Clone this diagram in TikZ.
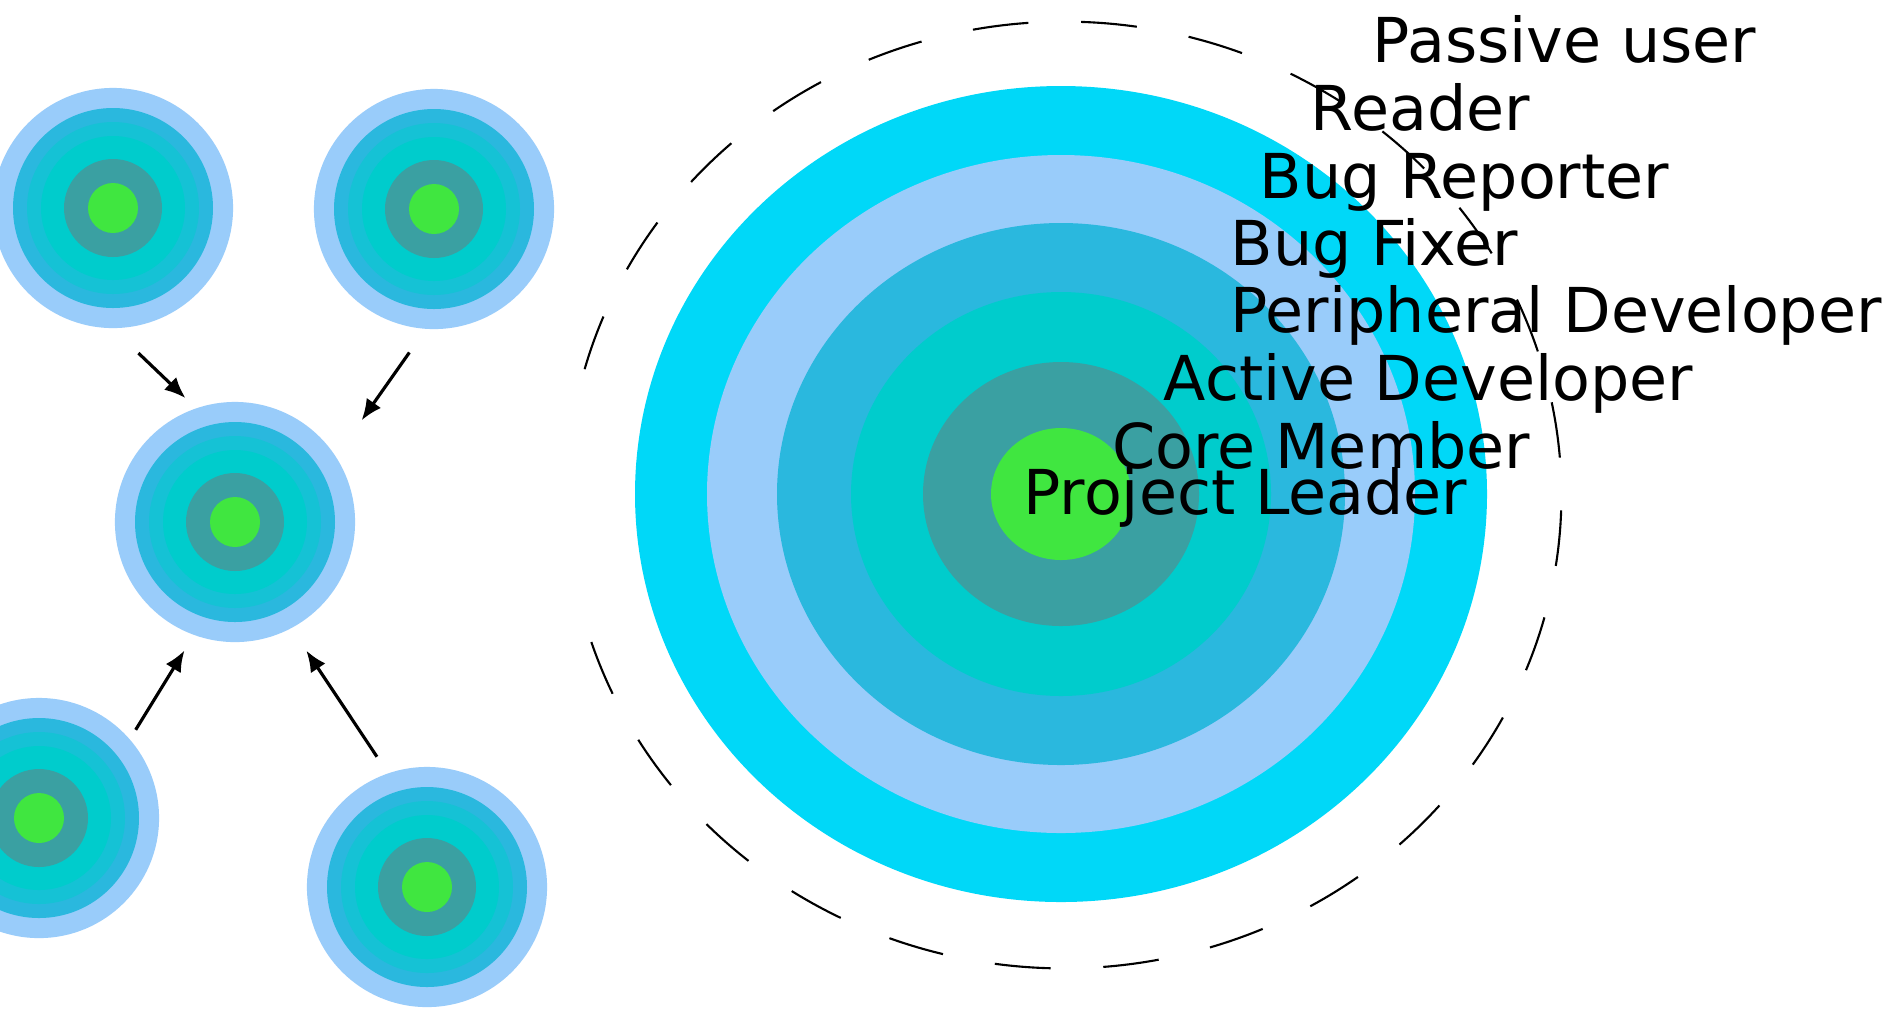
\documentclass[tikz,border=0pt]{standalone}
\usepackage{fontspec}
\setmainfont{DejaVu Sans}
\usetikzlibrary{arrows.meta}

\definecolor{onioncyan}{RGB}{0,216,248}
\definecolor{onionlight}{RGB}{153,204,250}
\definecolor{onionblue}{RGB}{42,184,222}
\definecolor{onionturq}{RGB}{0,204,204}
\definecolor{onionteal}{RGB}{58,160,162}
\definecolor{oniongreen}{RGB}{64,230,64}

\begin{document}
\begin{tikzpicture}
        [
          x=0.01cm, y=-0.01cm,
          onion/.style={circle, fill=onionlight, minimum size=2.4cm, inner sep=0pt},
          role/.style={anchor=base west, inner sep=0pt, font=\fontsize{17.6}{20}\selectfont},
          arrow/.style={line width=0.9pt, -{Latex[length=6pt,width=5pt]}},
          rim/.style={line width=0.6pt, dash pattern=on 15.9pt off 15pt}
        ]
        \fill [white] (0,0) rectangle (1901,1008);
        \useasboundingbox (0,0) rectangle (1901,1008);
        % small onions
        \foreach \n/\x/\y in {tl/113/208, tr/434/209, mid/235/522, bl/39/818, br/427/887} {
            \node [onion] (\n) at (\x,\y) {};
            \fill [onionblue] (\n) circle (100);
            \fill [onionblue!50!onionturq] (\n) circle (86);
            \fill [onionturq] (\n) circle (72);
            \fill [onionteal] (\n) circle (49);
            \fill [oniongreen] (\n) circle (25);
        }
        % arrows
        \draw [arrow, shorten <=10pt, shorten >=4pt] (tl.-90) -- (mid.109);
        \draw [arrow, shorten <=8pt, shorten >=12.5pt] (tr.266) -- (mid.33);
        \draw [arrow, shorten <=3pt, shorten >=5pt] (bl.41) -- (mid.250);
        \draw [arrow, shorten <=5.5pt, shorten >=7.5pt] (br.109) -- (mid.298);
        % big onion
        \coordinate (centre) at (1061,494);
        \foreach \rx/\ry/\col in {426/408/onioncyan, 354/339/onionlight, 284/271/onionblue,
                                  210/202/onionturq, 138/132/onionteal, 70/66/oniongreen} {
            \fill [\col] (centre) ellipse [x radius=\rx, y radius=\ry];
        }
        % dashed boundary, open on the left
        \coordinate (outer) at (1064,495);
        \draw [rim] ([shift={(198.1:4.97cm and 4.73cm)}]outer)
          arc [start angle=198.1, end angle=525.3, x radius=4.97cm, y radius=4.73cm];
        % labels
        \node [role] (passive) at (1372,62) {Passive user};
        \node [role] (reader) at (1310,130) {Reader};
        \node [role] (reporter) at (1259,198) {Bug Reporter};
        \node [role] (fixer) at (1230,265) {Bug Fixer};
        \node [role] (peripheral) at (1230,332) {Peripheral Developer};
        \node [role] (active) at (1163,400) {Active Developer};
        \node [role] (core) at (1112,468) {Core Member};
        \node [role] (leader) at (1023,514) {Project Leader};
      \end{tikzpicture}
\end{document}
